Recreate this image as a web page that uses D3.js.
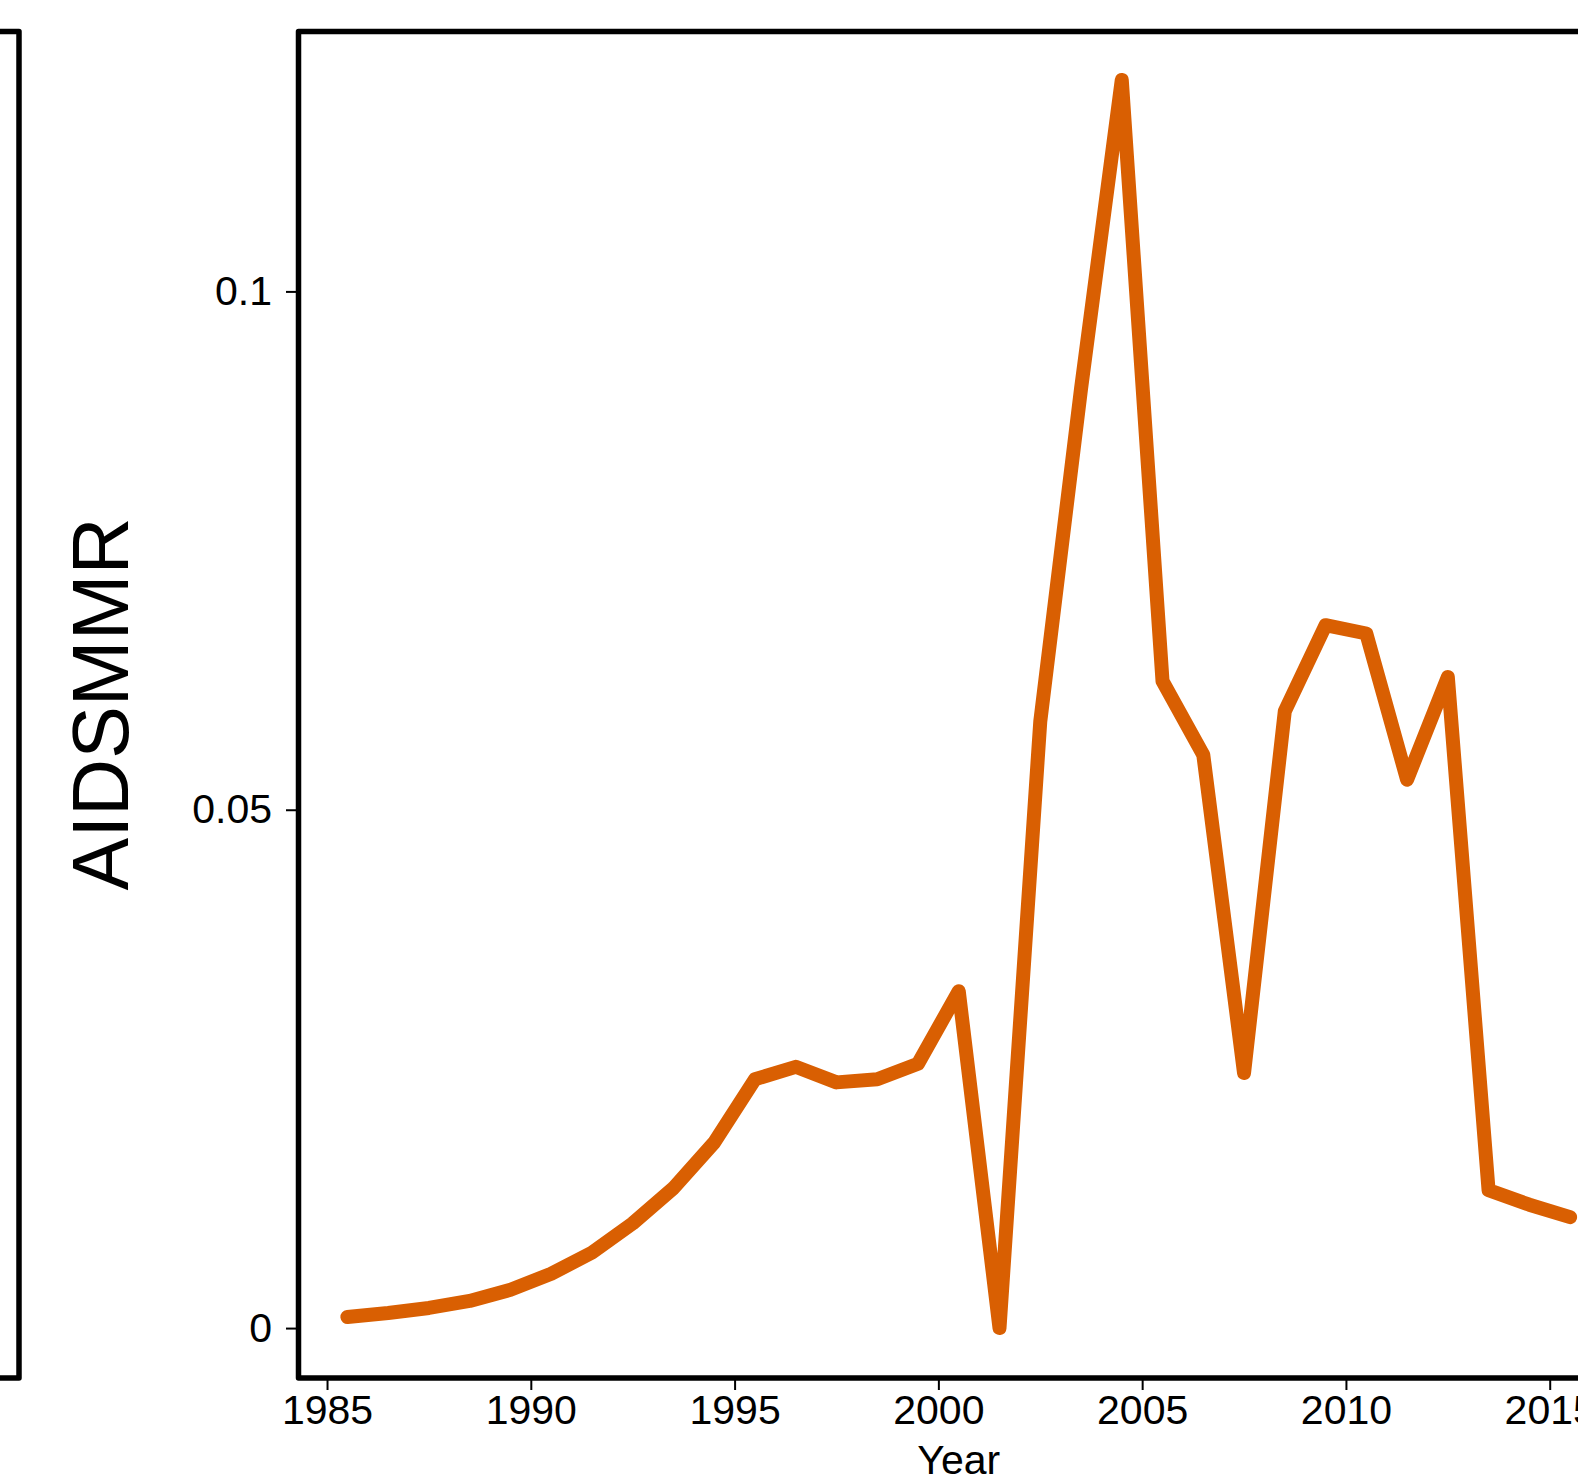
<!DOCTYPE html>
<html>
<head>
<meta charset="utf-8">
<script src="https://cdn.jsdelivr.net/npm/d3@7"></script>
<style>
  html, body { margin: 0; padding: 0; background: #fff; overflow: hidden; }
  text { font-family: "Liberation Sans", Arial, Helvetica, sans-serif; fill: #000; }
</style>
</head>
<body>
<svg id="chart" width="1578" height="1484"></svg>
<script>
// ---- data ----
const years = [1985.5, 1986.5, 1987.5, 1988.5, 1989.5, 1990.5, 1991.5, 1992.5, 1993.5, 1994.5,
               1995.5, 1996.5, 1997.5, 1998.5, 1999.5, 2000.5, 2001.5, 2002.5, 2003.5, 2004.5,
               2005.5, 2006.5, 2007.5, 2008.5, 2009.5, 2010.5, 2011.5, 2012.5, 2013.5, 2014.5, 2015.5];
const aidsmmr = [0.00107, 0.00146, 0.00194, 0.00262, 0.00369, 0.00524, 0.00728, 0.0101, 0.0135, 0.0179,
                 0.0240, 0.0252, 0.0237, 0.0240, 0.0255, 0.0325, 0.0000, 0.0585, 0.0906, 0.1204,
                 0.0624, 0.0553, 0.0246, 0.0595, 0.0678, 0.0670, 0.0529, 0.0628, 0.0133, 0.0119, 0.0107];
const xTicks = [1985, 1990, 1995, 2000, 2005, 2010, 2015];
const yTicks = [0, 0.05, 0.1];
const yTickLabels = ["0", "0.05", "0.1"];
const xTitle = "Year";
const yTitle = "AIDSMMR";

// ---- layout ----
const svg = d3.select("#chart");
const pLeft = 298.5, pRight = 1619, pTop = 30, pBottom = 1378;

// R-style 4% padding on both axes
const xmin = d3.min(years), xmax = d3.max(years);
const ymin = d3.min(aidsmmr), ymax = d3.max(aidsmmr);
const xpad = (xmax - xmin) * 0.04, ypad = (ymax - ymin) * 0.04;

const x = d3.scaleLinear().domain([xmin - xpad, xmax + xpad]).range([pLeft, pRight]);
const y = d3.scaleLinear().domain([ymin - ypad, ymax + ypad]).range([pBottom, pTop]);

// left neighbouring panel (only its right edge visible)
svg.append("rect")
  .attr("x", -400).attr("y", pTop + 1.5)
  .attr("width", 419).attr("height", pBottom - pTop - 1.5)
  .attr("fill", "none").attr("stroke", "#000").attr("stroke-width", 5.5)
  .attr("stroke-linejoin", "round");

// line
const line = d3.line().x((d, i) => x(years[i])).y(d => y(d));
svg.append("path")
  .datum(aidsmmr)
  .attr("d", line)
  .attr("fill", "none")
  .attr("stroke", "#D95F02")
  .attr("stroke-width", 14)
  .attr("stroke-linejoin", "round")
  .attr("stroke-linecap", "round");

// axes
const yAxis = d3.axisLeft(y).tickValues(yTicks)
  .tickFormat((d, i) => yTickLabels[i]).tickSize(12.5).tickPadding(14);
const gy = svg.append("g").attr("transform", `translate(${pLeft},0)`).call(yAxis);
gy.select(".domain").remove();
gy.selectAll(".tick line").attr("stroke", "#000").attr("stroke-width", 2);
gy.selectAll(".tick text").attr("font-size", 41).style("font-family", "'Liberation Sans', Arial, sans-serif");

const xAxis = d3.axisBottom(x).tickValues(xTicks).tickFormat(d3.format("d")).tickSize(12).tickPadding(5);
const gx = svg.append("g").attr("transform", `translate(0,${pBottom})`).call(xAxis);
gx.select(".domain").remove();
gx.selectAll(".tick line").attr("stroke", "#000").attr("stroke-width", 2);
gx.selectAll(".tick text").attr("font-size", 41).style("font-family", "'Liberation Sans', Arial, sans-serif");

// box of the main panel
svg.append("rect")
  .attr("x", pLeft).attr("y", pTop + 1.5)
  .attr("width", pRight - pLeft).attr("height", pBottom - pTop - 1.5)
  .attr("fill", "none").attr("stroke", "#000").attr("stroke-width", 5.5)
  .attr("stroke-linejoin", "round");

// titles
svg.append("text")
  .attr("x", (pLeft + pRight) / 2).attr("y", 1474)
  .attr("text-anchor", "middle").attr("font-size", 41)
  .text(xTitle);

svg.append("text")
  .attr("transform", `translate(128,704) rotate(-90)`)
  .attr("text-anchor", "middle").attr("font-size", 79)
  .text(yTitle);
</script>
</body>
</html>
